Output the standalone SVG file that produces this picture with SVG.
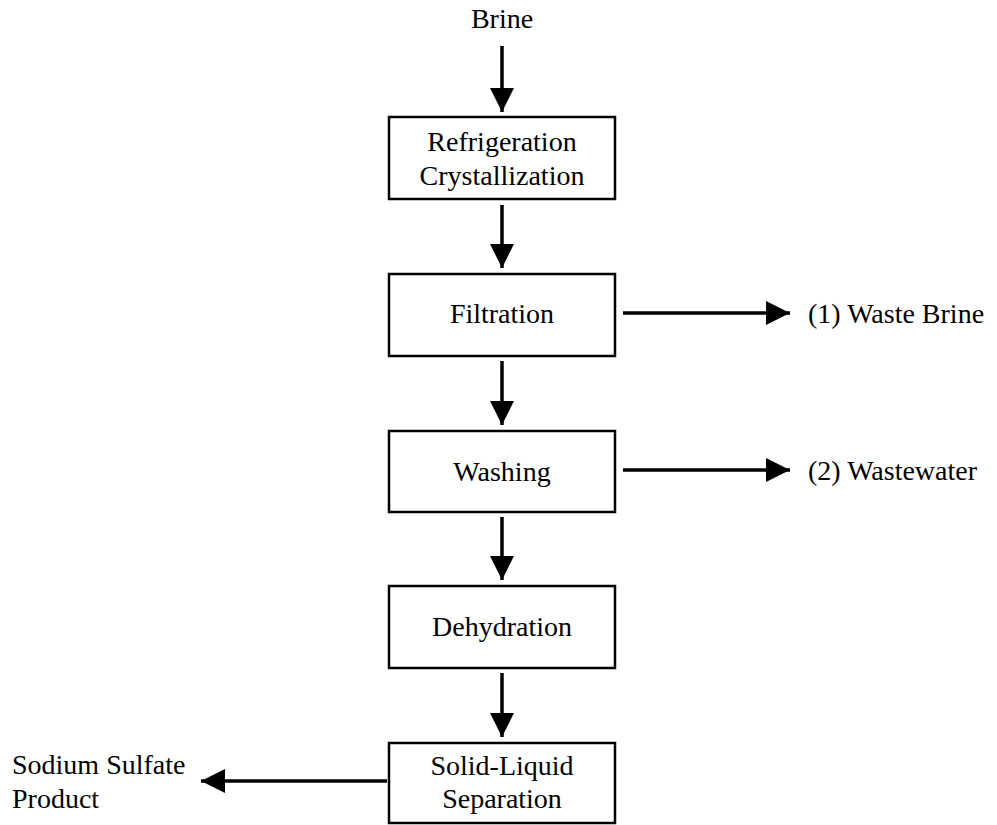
<svg xmlns="http://www.w3.org/2000/svg" width="997" height="825" viewBox="0 0 997 825">
<style>
.box{fill:#fff;stroke:#000;stroke-width:2.5}
.c{text-anchor:middle}
.ln{stroke:#000;stroke-width:3.5;fill:none}
</style>
<defs>
<marker id="ah" markerUnits="userSpaceOnUse" markerWidth="26" markerHeight="24" refX="24" refY="12" orient="auto">
<path d="M0,0 L24,12 L0,24 Z" fill="#000"/>
</marker>
</defs>
<rect width="997" height="825" fill="#fff"/>
<g id="connectors">
<line class="ln" x1="502" y1="46" x2="502" y2="112" marker-end="url(#ah)"/>
<line class="ln" x1="502" y1="205" x2="502" y2="268" marker-end="url(#ah)"/>
<line class="ln" x1="502" y1="361" x2="502" y2="425" marker-end="url(#ah)"/>
<line class="ln" x1="502" y1="517" x2="502" y2="580" marker-end="url(#ah)"/>
<line class="ln" x1="502" y1="673" x2="502" y2="737" marker-end="url(#ah)"/>
<line class="ln" x1="623" y1="313" x2="790" y2="313" marker-end="url(#ah)"/>
<line class="ln" x1="623" y1="470" x2="790" y2="470" marker-end="url(#ah)"/>
<line class="ln" x1="387" y1="781" x2="201" y2="781" marker-end="url(#ah)"/>
</g>
<g font-family="'Liberation Serif', 'Times New Roman', Times, serif" font-size="28" fill="#000">
<g id="brine"><text class="c" x="502" y="28">Brine</text></g>
<g id="refrigeration"><rect class="box" x="389" y="117" width="226" height="82"/><text class="c" x="502" y="151">Refrigeration</text><text class="c" x="502" y="185">Crystallization</text></g>
<g id="filtration"><rect class="box" x="389" y="274" width="226" height="82"/><text class="c" x="502" y="323">Filtration</text></g>
<g id="washing"><rect class="box" x="389" y="431" width="226" height="81"/><text class="c" x="502" y="481">Washing</text></g>
<g id="dehydration"><rect class="box" x="389" y="586" width="226" height="82"/><text class="c" x="502" y="636">Dehydration</text></g>
<g id="separation"><rect class="box" x="389" y="743" width="226" height="80"/><text class="c" x="502" y="775">Solid-Liquid</text><text class="c" x="502" y="808">Separation</text></g>
<g id="waste-brine"><text x="808" y="323">(1) Waste Brine</text></g>
<g id="wastewater"><text x="808" y="480">(2) Wastewater</text></g>
<g id="product"><text x="12" y="774">Sodium Sulfate</text><text x="12" y="808">Product</text></g>
</g>
</svg>
